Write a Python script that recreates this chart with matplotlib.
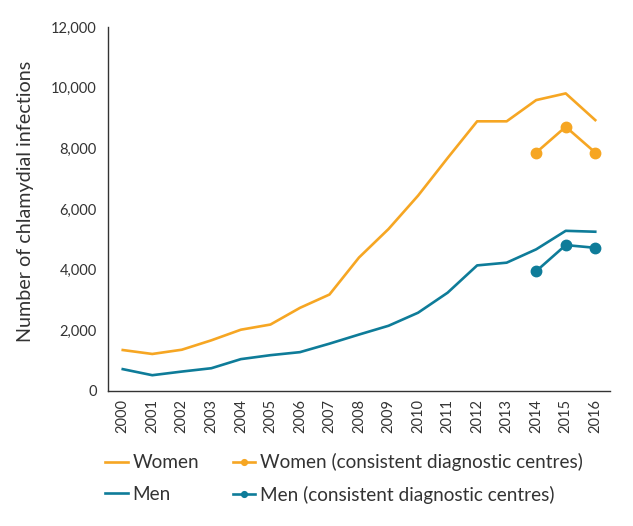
import matplotlib
matplotlib.use("Agg")
import matplotlib.pyplot as plt
from matplotlib.ticker import FuncFormatter

years = list(range(2000, 2017))
women = [1350, 1220, 1360, 1670, 2020, 2190, 2740, 3180, 4400, 5340, 6440,
         7680, 8890, 8890, 9590, 9810, 8930]
men = [720, 520, 640, 750, 1050, 1180, 1280, 1560, 1860, 2150, 2580,
       3240, 4140, 4230, 4670, 5280, 5250]
cons_years = [2014, 2015, 2016]
women_cons = [7860, 8710, 7860]
men_cons = [3950, 4810, 4720]

orange = "#F6A623"
teal = "#0E7C99"
txt = "#333333"

plt.rcParams['font.family'] = ['Lato', 'DejaVu Sans']

fig = plt.figure(figsize=(6.33, 5.26), dpi=100)
ax = fig.add_axes([0.1706, 0.2567, 0.7931, 0.6920])

ax.plot(years, women, color=orange, lw=1.9, label="Women")
ax.plot(years, men, color=teal, lw=1.9, label="Men")
ax.plot(cons_years, women_cons, color=orange, lw=1.9, marker='o', ms=7.5,
        label="Women (consistent diagnostic centres)")
ax.plot(cons_years, men_cons, color=teal, lw=1.9, marker='o', ms=7.5,
        label="Men (consistent diagnostic centres)")

ax.set_xlim(1999.5, 2016.5)
ax.set_ylim(0, 12000)
ax.set_yticks(range(0, 12001, 2000))
ax.yaxis.set_major_formatter(FuncFormatter(lambda v, p: f"{int(v):,}"))
ax.set_xticks(years)
ax.set_xticklabels([str(y) for y in years], rotation=90)
ax.tick_params(axis='both', length=0, labelsize=10.5, colors=txt, pad=8)
ax.tick_params(axis='x', pad=6)
for s in ['top', 'right']:
    ax.spines[s].set_visible(False)
for s in ['left', 'bottom']:
    ax.spines[s].set_color('#333333')
    ax.spines[s].set_linewidth(1.0)

ax.set_ylabel("Number of chlamydial infections", fontsize=14.2, color=txt)
ax.yaxis.set_label_coords(-0.147, 0.52)

h, l = ax.get_legend_handles_labels()
order = [0, 1, 2, 3]
leg = fig.legend([h[i] for i in order], [l[i] for i in order], ncol=2,
                 loc='upper left', bbox_to_anchor=(0.166, 0.138), frameon=False,
                 fontsize=13.7, handlelength=1.2, handletextpad=0.25,
                 columnspacing=1.75, labelspacing=0.75, markerscale=0.55,
                 borderaxespad=0, borderpad=0)
for t in leg.get_texts():
    t.set_color(txt)

fig.savefig("out.png", dpi=100)
